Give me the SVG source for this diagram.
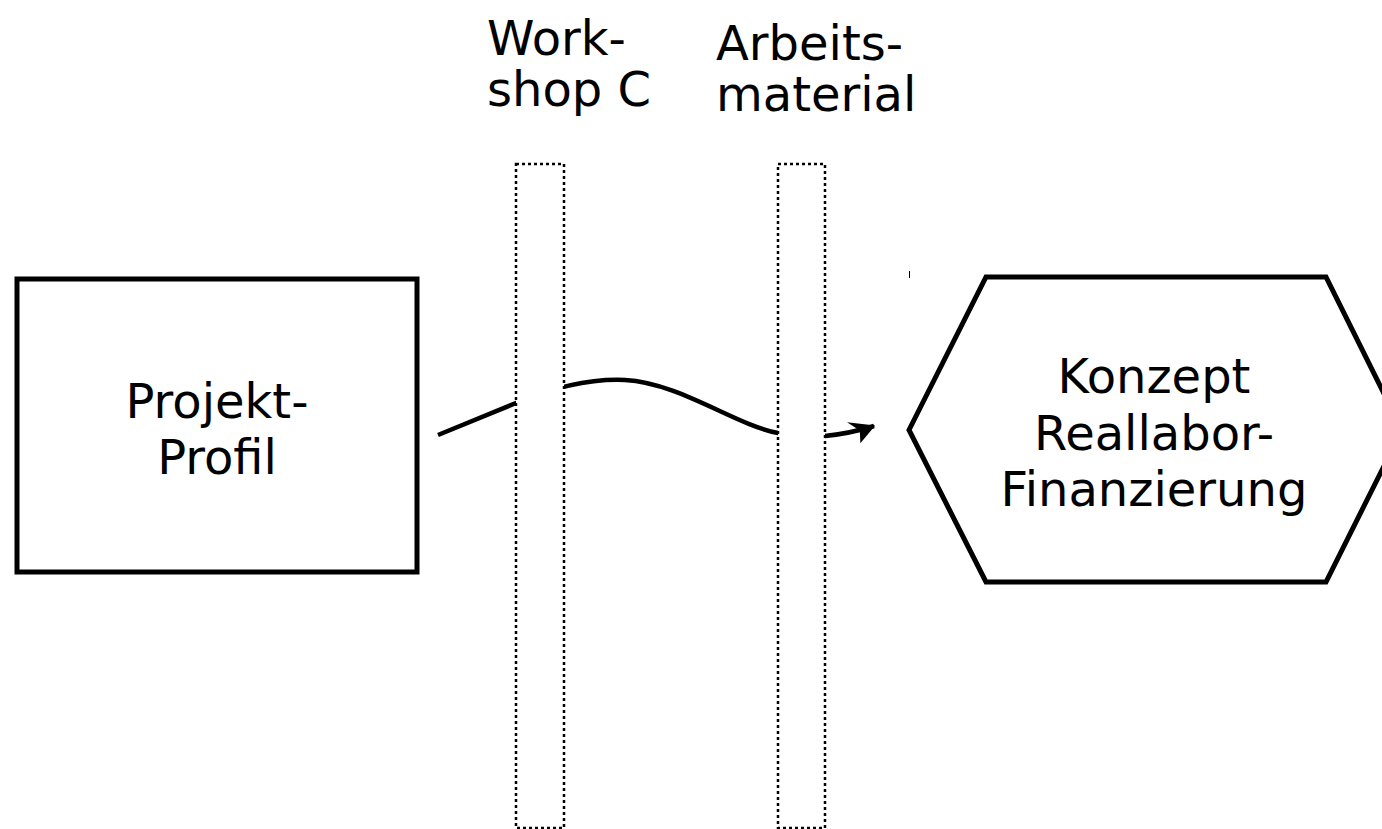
<svg xmlns="http://www.w3.org/2000/svg" width="1382" height="829" viewBox="0 0 1382 829">
<style>
text{font-family:"DejaVu Sans",sans-serif;font-size:48px;fill:#000}
.node{fill:#fff;stroke:#000;stroke-width:5;stroke-linejoin:miter}
.bar{fill:#fff;stroke:#000;stroke-width:2.5;stroke-dasharray:3 3}
.conn{fill:none;stroke:#000;stroke-width:4.5}
</style>
<defs>
<marker id="arr" viewBox="0 0 10 10" refX="9.5" refY="5" markerWidth="26" markerHeight="26" orient="auto" markerUnits="userSpaceOnUse">
<path d="M0,0.5 L10,5 L2.5,9.8 L3.8,5 Z" fill="#000"/>
</marker>
</defs>
<g id="connectors">
<path class="conn" d="M438,435 L516,403 C540,393 580,378 625,380 C680,383 735,425 778,433 C795,436 810,437 825,436 C845,434 858,431 874,426" marker-end="url(#arr)"/>
</g>
<g id="workshop-c">
<rect class="bar" x="516" y="164" width="48" height="664"/>
<text x="487" y="55">Work-</text>
<text x="487" y="106">shop C</text>
</g>
<g id="arbeitsmaterial">
<rect class="bar" x="778" y="164" width="47" height="664"/>
<text x="716" y="60">Arbeits-</text>
<text x="716" y="111">material</text>
</g>
<g id="projekt-profil">
<rect class="node" x="17" y="279" width="400" height="293"/>
<text x="217" y="418" text-anchor="middle">Projekt-</text>
<text x="217" y="474" text-anchor="middle">Profil</text>
</g>
<g id="konzept">
<polygon class="node" points="909,430 986,277 1326,277 1402,430 1326,582 986,582"/>
<text x="1154" y="393" text-anchor="middle">Konzept</text>
<text x="1154" y="450" text-anchor="middle">Reallabor-</text>
<text x="1154" y="506" text-anchor="middle">Finanzierung</text>
</g>
<line x1="909.5" y1="271" x2="909.5" y2="278" stroke="#000" stroke-width="1"/>
</svg>
